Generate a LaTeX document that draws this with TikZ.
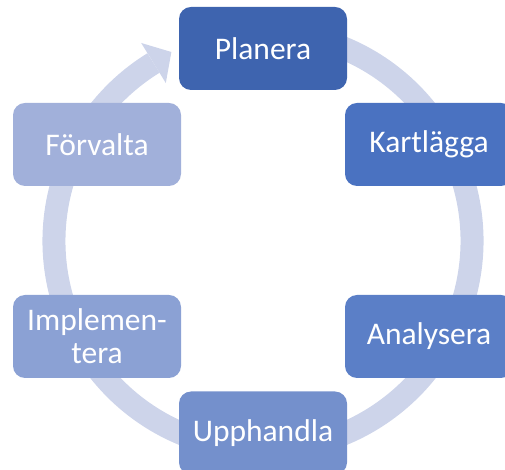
\documentclass[tikz,border=0pt]{standalone}
\usepackage{fontspec}
\setmainfont{Carlito}
\usetikzlibrary{calc}
\definecolor{ringc}{HTML}{CDD4EA}
\definecolor{c1}{HTML}{3E64AF}
\definecolor{c2}{HTML}{4A72C1}
\definecolor{c3}{HTML}{5B7FC7}
\definecolor{c4}{HTML}{7490CC}
\definecolor{c5}{HTML}{8BA1D4}
\definecolor{c6}{HTML}{A1B0DA}
\tikzset{
  stagebox/.style={rectangle, rounded corners=12pt, minimum width=168pt, minimum height=83pt,
    inner sep=0pt, text=white, align=center,
    font=\fontsize{31.5}{33}\selectfont}
}
\begin{document}
\begin{tikzpicture}[x=1pt,y=1pt]
\useasboundingbox (0,0) rectangle (505,470);
\coordinate (c) at (263,229);
% ring arrow
\draw[ringc, line width=23pt] ($(c)+(75:209)$) arc[start angle=75, end angle=-238.4, radius=209];
\coordinate (tipbase) at ($(c)+(121.6:209)$);
\fill[ringc] ($(c)+(121.6:232.5)$) -- ($(tipbase)+(31.6:21)$) -- ($(c)+(121.6:185.5)$) -- cycle;
% boxes
\node[stagebox, fill=c1] (planera) at (263,421.5) {Planera};
\node[stagebox, fill=c2] (kart) at (429,325.5) {Kartlägga};
\node[stagebox, fill=c3] (anal) at (429,133.5) {Analysera};
\node[stagebox, fill=c4] (upp) at (263,37) {Upphandla};
\node[stagebox, fill=c5] (impl) at (97,133.5) {Implemen-\\tera};
\node[stagebox, fill=c6] (forv) at (97,325.5) {Förvalta};
\end{tikzpicture}
\end{document}
